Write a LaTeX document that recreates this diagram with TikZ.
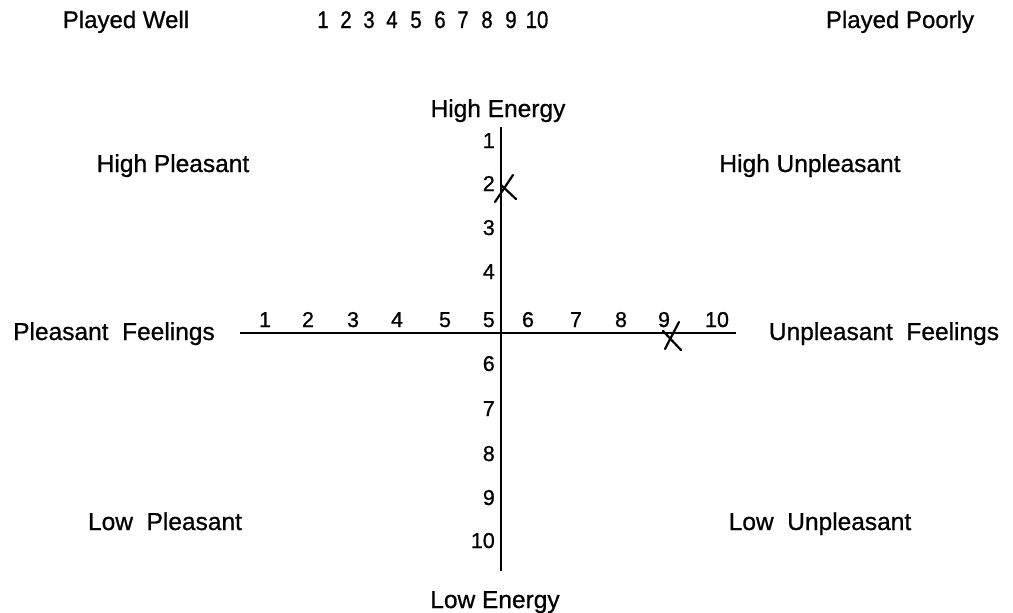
\documentclass[tikz,border=0pt]{standalone}
\usepackage{fontspec}
\setmainfont[FakeBold=0.8]{Liberation Sans}
\newfontfamily\narrowsans[FakeBold=0.8,FakeStretch=0.85]{Liberation Sans}
\begin{document}
\begin{tikzpicture}[x=1pt,y=-1pt,
  toplbl/.style={inner sep=0pt,anchor=base,font=\fontsize{24}{28}\selectfont},
  topnum/.style={inner sep=0pt,anchor=base,font=\narrowsans\fontsize{24}{28}\selectfont},
  lbl/.style={inner sep=0pt,anchor=base,font=\fontsize{24.5}{28}\selectfont},
  num/.style={inner sep=0pt,anchor=base,font=\fontsize{21.5}{24}\selectfont},
  axis/.style={line width=2.6pt},
  xstroke/.style={line width=2.2pt,line cap=round}]
\useasboundingbox (0,0) rectangle (1013,613);
% top scale
\node[toplbl] (pw) at (126,28) {Played Well};
\node[toplbl] (pp) at (900,28) {Played Poorly};
\foreach \i/\x in {1/323,2/346,3/369,4/392,5/416,6/440,7/463,8/487,9/511,10/537}
  \node[topnum] (t\i) at (\x,28) {\i};
% axes
\coordinate (vtop) at (501,127);
\coordinate (vbot) at (501,571);
\coordinate (hl) at (240,333);
\coordinate (hr) at (736,333);
\draw[axis] (vtop) -- (vbot);
\draw[axis] (hl) -- (hr);
% axis labels
\node[lbl] (he) at (498,117) {High Energy};
\node[lbl] (le) at (495,608) {Low Energy};
\node[lbl] (pf) at (114,340) {Pleasant\ \ Feelings};
\node[lbl] (uf) at (884,340) {Unpleasant\ \ Feelings};
\node[lbl] (hp) at (173,172) {High\ Pleasant};
\node[lbl] (hu) at (810,172) {High\ Unpleasant};
\node[lbl] (lp) at (165,530) {Low\ \ Pleasant};
\node[lbl] (lu) at (820,530) {Low\ \ Unpleasant};
% vertical numbers
\foreach \i/\y in {1/148,2/191,3/235,4/279,6/371,7/416,8/461,9/505,10/548}
  \node[num,anchor=base east] (v\i) at (495,\y) {\i};
% horizontal numbers
\foreach \i/\x in {1/265,2/308,3/353,4/397,5/445,6/528,7/576,8/621,9/664,10/717}
  \node[num] (h\i) at (\x,327) {\i};
\node[num,anchor=base east] (h5b) at (495,327) {5};
% X marks
\coordinate (xa1) at (495,202);
\coordinate (xa2) at (513,175);
\coordinate (xb1) at (501,185);
\coordinate (xb2) at (516,199);
\draw[xstroke] (xa1) -- (xa2);
\draw[xstroke] (xb1) -- (xb2);
\coordinate (ya1) at (665,349);
\coordinate (ya2) at (679,322);
\coordinate (yb1) at (663,331);
\coordinate (yb2) at (681,350);
\draw[xstroke] (ya1) -- (ya2);
\draw[xstroke] (yb1) -- (yb2);
\end{tikzpicture}
\end{document}
